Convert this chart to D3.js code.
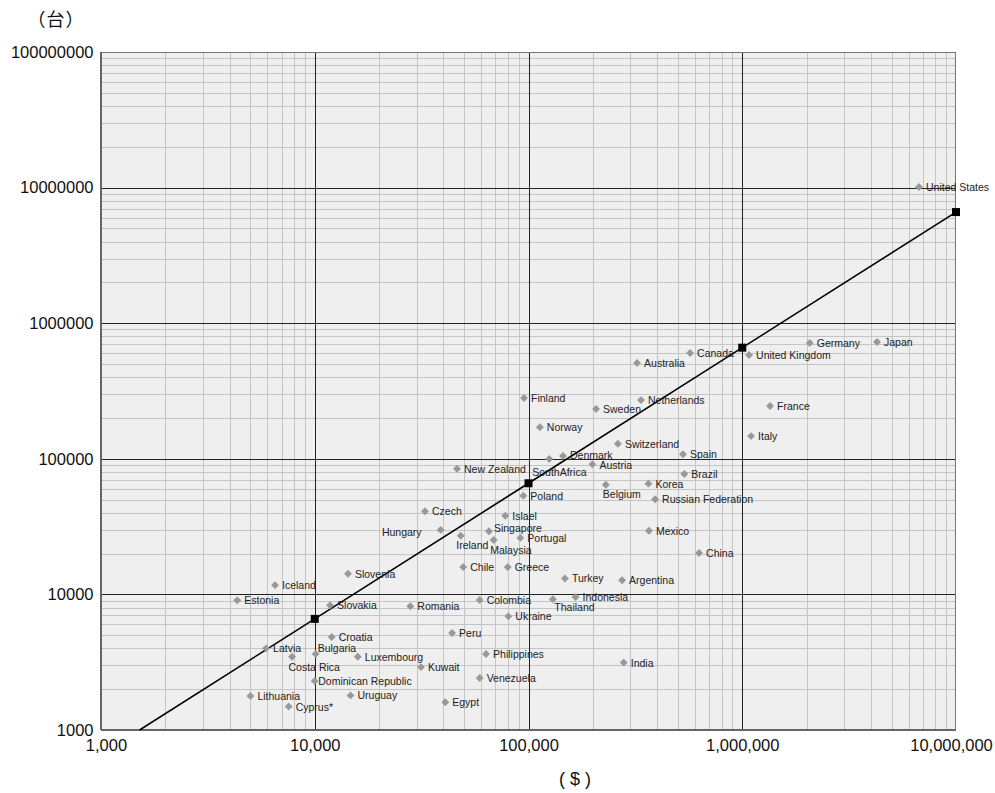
<!DOCTYPE html>
<html>
<head>
<meta charset="utf-8">
<script src="https://cdn.jsdelivr.net/npm/d3@7"></script>
<style>
  body { margin: 0; background: #fff; }
  svg text { font-family: "Liberation Sans", Arial, Helvetica, sans-serif; }
</style>
</head>
<body>
<div id="chart"></div>
<script>
// values: x = GDP ($), y = vehicles (台)
const countries = ["United States", "Germany", "Japan", "United Kingdom", "Canada", "Australia",
  "France", "Italy", "Finland", "Netherlands", "Sweden", "Norway", "Switzerland", "Spain",
  "Denmark", "SouthAfrica", "Austria", "Brazil", "New Zealand", "Poland", "Belgium", "Korea",
  "Russian Federation", "Czech", "Islael", "Hungary", "Ireland", "Singapore", "Malaysia",
  "Portugal", "Mexico", "China", "Slovenia", "Chile", "Greece", "Turkey", "Argentina",
  "Iceland", "Estonia", "Slovakia", "Romania", "Colombia", "Thailand", "Indonesia", "Ukraine",
  "Peru", "Croatia", "Latvia", "Bulgaria", "Costa Rica", "Luxembourg", "Philippines", "India",
  "Kuwait", "Dominican Republic", "Venezuela", "Uruguay", "Lithuania", "Cyprus*", "Egypt"];

const gdpValues = [6710000, 2070000, 4270000, 1076000, 570000, 322000,
  1350000, 1100000, 95300, 336000, 207000, 113000, 262000, 528000,
  145000, 125000, 199000, 536000, 46300, 94600, 230000, 364000,
  391000, 32800, 77900, 38800, 48200, 65300, 68700,
  91600, 366000, 628000, 14300, 49500, 79900, 148000, 274000,
  6520, 4340, 11800, 28000, 59100, 130000, 166000, 80500,
  43900, 12000, 5920, 10100, 7830, 15900, 63300, 279000,
  31400, 10000, 59100, 14700, 5000, 7550, 40800];

const vehicleValues = [10100000, 714000, 726000, 582000, 603000, 509000,
  245000, 147000, 281000, 271000, 233000, 171000, 129000, 108000,
  105000, 99700, 91000, 77300, 84500, 53400, 64400, 65600,
  50300, 41000, 38000, 29900, 27100, 29200, 25200,
  26100, 29500, 20200, 14200, 15900, 15900, 13100, 12700,
  11700, 9040, 8300, 8170, 9100, 9200, 9570, 6890,
  5190, 4850, 4000, 3640, 3470, 3470, 3640, 3140,
  2910, 2300, 2420, 1800, 1780, 1490, 1600];

// fitted line (y = 0.66x) and its marked points
const fitX = [1515, 10000, 100000, 1000000, 10000000];
const fitY = [1000, 6600, 66000, 660000, 6600000];
const fitMarkX = [10000, 100000, 1000000, 10000000];
const fitMarkY = [6600, 66000, 660000, 6600000];

const xTicks = [1000, 10000, 100000, 1000000, 10000000];
const xTickLabels = ["1,000", "10,000", "100,000", "1,000,000", "10,000,000"];
const yTicks = [1000, 10000, 100000, 1000000, 10000000, 100000000];
const yTickLabels = ["1000", "10000", "100000", "1000000", "10000000", "100000000"];

// labels that are not placed just to the right of their marker
const labelPlace = {
  "SouthAfrica": { dx: -17, dy: 17, anchor: "start" },
  "Belgium": { dx: -3, dy: 13.5, anchor: "start" },
  "Hungary": { dx: -19, dy: 6, anchor: "end" },
  "Ireland": { dx: -4.5, dy: 13, anchor: "start" },
  "Malaysia": { dx: -3.5, dy: 14, anchor: "start" },
  "Thailand": { dx: 1.5, dy: 12, anchor: "start" },
  "Costa Rica": { dx: -3.5, dy: 14, anchor: "start" },
  "Bulgaria": { dx: 2, dy: -2, anchor: "start" },
  "Dominican Republic": { dx: 3.5, dy: 4, anchor: "start" },
  "Singapore": { dx: 5, dy: 1, anchor: "start" },
  "Denmark": { dx: 7, dy: 3.5, anchor: "start" },
  "Austria": { dx: 7, dy: 5, anchor: "start" }
};

const points = countries.map((c, i) => ({ name: c, x: gdpValues[i], y: vehicleValues[i] }));

const margin = { top: 52, right: 39, bottom: 63, left: 101 };
const width = 995 - margin.left - margin.right;
const height = 793 - margin.top - margin.bottom;

const svg = d3.select("#chart").append("svg")
  .attr("width", 995)
  .attr("height", 793);

const g = svg.append("g")
  .attr("transform", `translate(${margin.left}, ${margin.top})`);

const xScale = d3.scaleLog().domain([1000, 10000000]).range([0, width]);
const yScale = d3.scaleLog().domain([1000, 100000000]).range([height, 0]);

g.append("rect")
  .attr("width", width)
  .attr("height", height)
  .attr("fill", "#efefef");

// minor grid
const minorX = [];
xTicks.slice(0, -1).forEach(d => { for (let k = 2; k <= 9; k++) minorX.push(d * k); });
const minorY = [];
yTicks.slice(0, -1).forEach(d => { for (let k = 2; k <= 9; k++) minorY.push(d * k); });

g.selectAll(".minor-x").data(minorX).enter().append("line")
  .attr("x1", d => Math.round(xScale(d)) + 0.5).attr("x2", d => Math.round(xScale(d)) + 0.5)
  .attr("y1", 0).attr("y2", height)
  .attr("stroke", "#c4c4c4").attr("stroke-width", 1);

g.selectAll(".minor-y").data(minorY).enter().append("line")
  .attr("y1", d => Math.round(yScale(d)) + 0.5).attr("y2", d => Math.round(yScale(d)) + 0.5)
  .attr("x1", 0).attr("x2", width)
  .attr("stroke", "#c4c4c4").attr("stroke-width", 1);

// major grid
g.selectAll(".major-x").data(xTicks.slice(1, -1)).enter().append("line")
  .attr("x1", d => Math.round(xScale(d)) + 0.5).attr("x2", d => Math.round(xScale(d)) + 0.5)
  .attr("y1", 0).attr("y2", height)
  .attr("stroke", "#222").attr("stroke-width", 1);

g.selectAll(".major-y").data(yTicks.slice(1, -1)).enter().append("line")
  .attr("y1", d => Math.round(yScale(d)) + 0.5).attr("y2", d => Math.round(yScale(d)) + 0.5)
  .attr("x1", 0).attr("x2", width)
  .attr("stroke", "#222").attr("stroke-width", 1);

// frame
g.append("rect")
  .attr("x", 0.5).attr("y", 0.5)
  .attr("width", width - 1).attr("height", height - 1)
  .attr("fill", "none").attr("stroke", "#777").attr("stroke-width", 1);
g.append("line").attr("x1", 0).attr("x2", 0).attr("y1", 0).attr("y2", height)
  .attr("stroke", "#666").attr("stroke-width", 2);
g.append("line").attr("x1", 0).attr("x2", width).attr("y1", height).attr("y2", height)
  .attr("stroke", "#666").attr("stroke-width", 2);

// axes (labels only)
const xAxis = d3.axisBottom(xScale)
  .tickValues(xTicks)
  .tickFormat((d, i) => xTickLabels[i])
  .tickSize(0)
  .tickPadding(9);
const xAxisG = g.append("g")
  .attr("transform", `translate(0, ${height})`)
  .call(xAxis);
xAxisG.select(".domain").remove();
xAxisG.selectAll("text")
  .style("font-size", "16.5px")
  .attr("fill", "#111")
  .attr("dx", (d, i) => i === 0 ? 5 : (i === xTicks.length - 1 ? -5 : 0));

const yAxis = d3.axisLeft(yScale)
  .tickValues(yTicks)
  .tickFormat((d, i) => yTickLabels[i])
  .tickSize(0)
  .tickPadding(7.5);
const yAxisG = g.append("g").call(yAxis);
yAxisG.select(".domain").remove();
yAxisG.selectAll("text")
  .style("font-size", "16.5px")
  .attr("fill", "#111");

// fitted line
const lineGen = d3.line()
  .x(d => xScale(d[0]))
  .y(d => yScale(d[1]));

g.append("path")
  .datum(fitX.map((x, i) => [x, fitY[i]]))
  .attr("d", lineGen)
  .attr("fill", "none")
  .attr("stroke", "#000")
  .attr("stroke-width", 1.6);

g.selectAll(".fit-mark").data(fitMarkX.map((x, i) => [x, fitMarkY[i]])).enter().append("rect")
  .attr("x", d => xScale(d[0]) - 4)
  .attr("y", d => yScale(d[1]) - 4)
  .attr("width", 8).attr("height", 8)
  .attr("fill", "#000");

// points
const symbol = d3.symbol().type(d3.symbolDiamond2).size(40);

g.selectAll(".pt").data(points).enter().append("path")
  .attr("d", symbol)
  .attr("transform", d => `translate(${xScale(d.x)}, ${yScale(d.y)})`)
  .attr("fill", "#999");

g.selectAll(".pt-label").data(points).enter().append("text")
  .attr("x", d => xScale(d.x) + (labelPlace[d.name] ? labelPlace[d.name].dx : 7))
  .attr("y", d => yScale(d.y) + (labelPlace[d.name] ? labelPlace[d.name].dy : 4))
  .attr("text-anchor", d => labelPlace[d.name] ? labelPlace[d.name].anchor : "start")
  .style("font-size", "10.5px")
  .attr("fill", "#222")
  .text(d => d.name);

// axis titles
svg.append("text")
  .attr("x", 56).attr("y", 26)
  .attr("text-anchor", "middle")
  .style("font-family", "'Noto Sans CJK JP', sans-serif")
  .style("font-size", "18px")
  .style("letter-spacing", "1px")
  .attr("fill", "#111")
  .text("（台）");

svg.append("text")
  .attr("x", 575).attr("y", 785)
  .attr("text-anchor", "middle")
  .style("font-size", "18px")
  .attr("fill", "#111")
  .text("( $ )");
</script>
</body>
</html>
